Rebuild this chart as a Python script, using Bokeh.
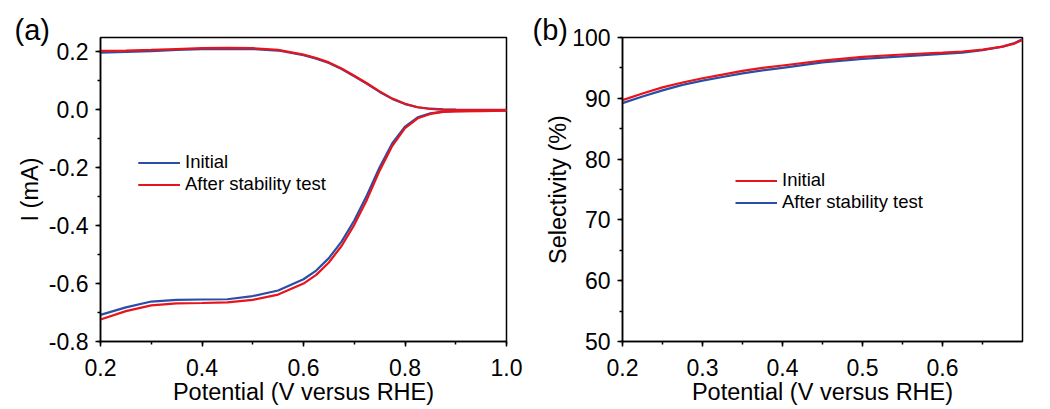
from bokeh.plotting import figure
from bokeh.layouts import row
from bokeh.models import (Legend, LegendItem, Title, SingleIntervalTicker,
                          PrintfTickFormatter)
from bokeh.embed import file_html
from bokeh.resources import INLINE

# ---------------- data: panel (a) ----------------
pot_a = [0.20, 0.25, 0.30, 0.35, 0.40, 0.45, 0.50, 0.55, 0.60, 0.625, 0.65,
         0.675, 0.70, 0.725, 0.75, 0.775, 0.80, 0.825, 0.85, 0.875, 0.90,
         0.95, 1.00]
disk_initial = [-0.708, -0.682, -0.662, -0.656, -0.655, -0.654, -0.643,
                -0.624, -0.585, -0.555, -0.512, -0.455, -0.382, -0.295,
                -0.198, -0.115, -0.058, -0.026, -0.012, -0.006, -0.004,
                -0.003, -0.002]
disk_after = [-0.724, -0.695, -0.675, -0.668, -0.667, -0.665, -0.656,
              -0.638, -0.600, -0.570, -0.527, -0.470, -0.397, -0.310,
              -0.210, -0.124, -0.063, -0.029, -0.014, -0.007, -0.005,
              -0.004, -0.003]
ring_initial = [0.198, 0.200, 0.203, 0.207, 0.210, 0.211, 0.210, 0.205,
                0.189, 0.177, 0.162, 0.141, 0.116, 0.090, 0.062, 0.038,
                0.020, 0.009, 0.004, 0.002, 0.001, 0.000, 0.000]
ring_after = [0.204, 0.205, 0.207, 0.210, 0.213, 0.214, 0.213, 0.207,
              0.191, 0.179, 0.164, 0.143, 0.118, 0.092, 0.064, 0.039,
              0.021, 0.009, 0.003, 0.001, 0.000, -0.001, -0.001]

# ---------------- data: panel (b) ----------------
pot_b = [0.20, 0.225, 0.25, 0.275, 0.30, 0.325, 0.35, 0.375, 0.40, 0.45,
         0.50, 0.55, 0.60, 0.625, 0.65, 0.675, 0.69, 0.70]
sel_initial = [89.7, 90.8, 91.8, 92.6, 93.3, 93.9, 94.5, 95.0, 95.4, 96.2,
               96.8, 97.2, 97.5, 97.7, 98.0, 98.5, 99.0, 99.6]
sel_after = [89.2, 90.3, 91.3, 92.2, 92.9, 93.5, 94.1, 94.6, 95.0, 95.9,
             96.5, 96.9, 97.3, 97.5, 97.9, 98.5, 99.1, 99.7]

BLUE = "#2a4ea6"
RED = "#e8141c"
FONT = "Liberation Sans"
TICK_FS = "23px"
LAB_FS = "23.5px"


def style(p, xint, yint, xfmt, yfmt):
    p.xaxis.ticker = SingleIntervalTicker(interval=xint, num_minor_ticks=2)
    p.yaxis.ticker = SingleIntervalTicker(interval=yint, num_minor_ticks=2)
    p.xaxis.formatter = PrintfTickFormatter(format=xfmt)
    p.yaxis.formatter = PrintfTickFormatter(format=yfmt)
    p.xgrid.visible = False
    p.ygrid.visible = False
    p.outline_line_color = "black"
    p.outline_line_width = 1.5
    for ax in (p.xaxis[0], p.yaxis[0]):
        ax.axis_line_width = 1.5
        ax.axis_line_color = "black"
        ax.major_tick_line_width = 1.5
        ax.minor_tick_line_width = 1.5
        ax.major_tick_in = 0
        ax.major_tick_out = 5
        ax.minor_tick_in = 0
        ax.minor_tick_out = 3
        ax.major_label_text_font = FONT
        ax.major_label_text_font_size = TICK_FS
        ax.major_label_text_color = "black"
        ax.axis_label_text_font = FONT
        ax.axis_label_text_font_size = LAB_FS
        ax.axis_label_text_font_style = "normal"
        ax.axis_label_text_color = "black"
    p.xaxis.major_label_standoff = 12
    p.xaxis.axis_label_standoff = 0
    p.yaxis.major_label_standoff = 7
    p.yaxis.axis_label_standoff = -2


def legend(items, loc):
    return Legend(items=items, location=loc, border_line_color=None,
                  background_fill_alpha=0, padding=0, margin=0, spacing=0,
                  glyph_width=42, glyph_height=21, label_height=21,
                  label_standoff=5, label_text_font=FONT,
                  label_text_font_size="18.5px", label_text_color="black")


def panel_title(text, offset):
    return Title(text=text, align="left", vertical_align="bottom",
                 offset=offset, standoff=-16, text_font=FONT,
                 text_font_size="29px", text_font_style="normal",
                 text_color="black")


# ---------------- panel (a) ----------------
pa = figure(width=530, height=407, x_range=(0.2, 1.0), y_range=(-0.8, 0.25),
            output_backend="svg", toolbar_location=None,
            min_border_left=100, min_border_right=24, min_border_top=34,
            min_border_bottom=64)
style(pa, 0.2, 0.2, "%.1f", "%.1f")
pa.xaxis.axis_label = "Potential (V versus RHE)"
pa.yaxis.axis_label = "I (mA)"
pa.yaxis.axis_label_standoff = 3

rb1 = pa.line(pot_a, ring_initial, line_color=BLUE, line_width=2.2)
rb2 = pa.line(pot_a, disk_initial, line_color=BLUE, line_width=2.2)
rr1 = pa.line(pot_a, ring_after, line_color=RED, line_width=2.2)
rr2 = pa.line(pot_a, disk_after, line_color=RED, line_width=2.2)

pa.add_layout(legend([LegendItem(label="Initial", renderers=[rb1, rb2]),
                      LegendItem(label="After stability test",
                                 renderers=[rr1, rr2])], (38, 146)))
pa.add_layout(panel_title("(a)", -86), "above")

# ---------------- panel (b) ----------------
pb = figure(width=518, height=407, x_range=(0.2, 0.7), y_range=(50, 100),
            output_backend="svg", toolbar_location=None,
            min_border_left=92, min_border_right=26, min_border_top=37,
            min_border_bottom=66)
style(pb, 0.1, 10, "%.1f", "%d")
pb.xaxis.axis_label = "Potential (V versus RHE)"
pb.yaxis.axis_label = "Selectivity (%)"

sb = pb.line(pot_b, sel_after, line_color=BLUE, line_width=2.2)
sr = pb.line(pot_b, sel_initial, line_color=RED, line_width=2.2)

pb.add_layout(legend([LegendItem(label="Initial", renderers=[sr]),
                      LegendItem(label="After stability test",
                                 renderers=[sb])], (113, 128)))
pb.add_layout(panel_title("(b)", -90), "above")

layout = row(pa, pb)
open("out.html", "w").write(file_html(layout, INLINE))
